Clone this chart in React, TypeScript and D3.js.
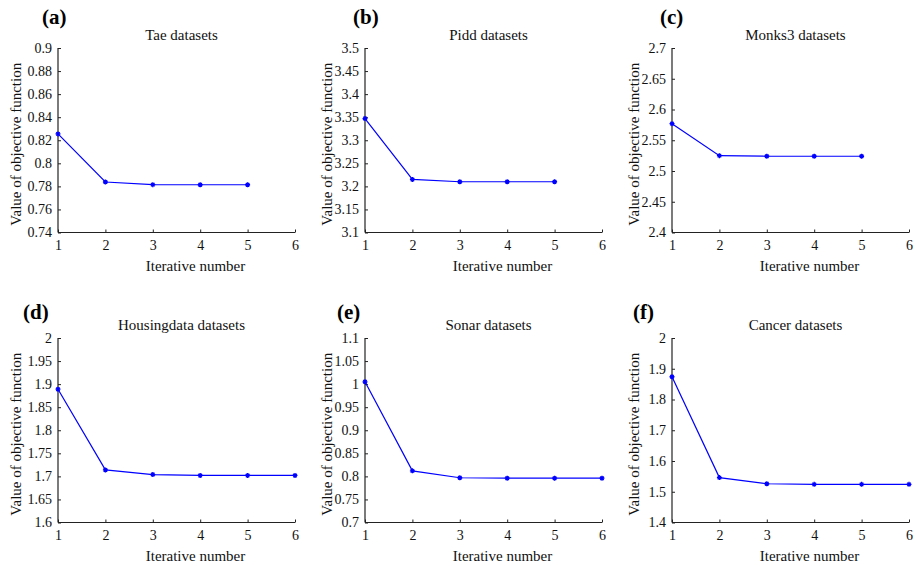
import React, { useEffect, useRef } from "react";
import * as d3 from "d3";

// iteration index on the x axis
const iterations = [1, 2, 3, 4, 5, 6];

const panelLabels = ["(a)", "(b)", "(c)", "(d)", "(e)", "(f)"];
const titles = [
  "Tae datasets",
  "Pidd datasets",
  "Monks3 datasets",
  "Housingdata datasets",
  "Sonar datasets",
  "Cancer datasets",
];

// objective function values per dataset
const taeValues = [0.8255, 0.7838, 0.7815, 0.7814, 0.7814];
const piddValues = [3.347, 3.215, 3.21, 3.21, 3.21];
const monks3Values = [2.577, 2.525, 2.524, 2.524, 2.524];
const housingValues = [1.889, 1.714, 1.704, 1.702, 1.702, 1.702];
const sonarValues = [1.005, 0.812, 0.797, 0.796, 0.796, 0.796];
const cancerValues = [1.874, 1.546, 1.526, 1.524, 1.524, 1.524];

// y tick labels per panel
const taeTicks = [0.74, 0.76, 0.78, 0.8, 0.82, 0.84, 0.86, 0.88, 0.9];
const piddTicks = [3.1, 3.15, 3.2, 3.25, 3.3, 3.35, 3.4, 3.45, 3.5];
const monks3Ticks = [2.4, 2.45, 2.5, 2.55, 2.6, 2.65, 2.7];
const housingTicks = [1.6, 1.65, 1.7, 1.75, 1.8, 1.85, 1.9, 1.95, 2];
const sonarTicks = [0.7, 0.75, 0.8, 0.85, 0.9, 0.95, 1, 1.05, 1.1];
const cancerTicks = [1.4, 1.5, 1.6, 1.7, 1.8, 1.9, 2];

const seriesList = [taeValues, piddValues, monks3Values, housingValues, sonarValues, cancerValues];
const tickList = [taeTicks, piddTicks, monks3Ticks, housingTicks, sonarTicks, cancerTicks];

const W = 915;
const H = 566;
const FONT = "'Liberation Serif', 'Times New Roman', serif";

export default function App() {
  const ref = useRef<SVGSVGElement>(null);

  useEffect(() => {
    const svg = d3.select(ref.current);
    svg.selectAll("*").remove();

    const colLeft = [58, 365, 672];
    const rowTop = [48, 338];
    const pw = 237;
    const ph = 184.5;
    const labelX = [42, 353, 660, 23, 337, 633];
    const ylabOff = [37, 33, 33];

    seriesList.forEach((vals, i) => {
      const col = i % 3;
      const row = Math.floor(i / 3);
      const left = colLeft[col];
      const top = rowTop[row];
      const ticks = tickList[i];

      const x = d3.scaleLinear().domain([1, 6]).range([left, left + pw]);
      const y = d3
        .scaleLinear()
        .domain([ticks[0], ticks[ticks.length - 1]])
        .range([top + ph, top]);

      const g = svg.append("g");

      // y axis
      const yAxis = d3
        .axisLeft(y)
        .tickValues(ticks)
        .tickSize(-3)
        .tickPadding(6)
        .tickFormat((d) => String(+(+d).toFixed(2)));
      const ya = g.append("g").attr("transform", `translate(${left},0)`).call(yAxis);

      const xAxis = d3
        .axisBottom(x)
        .tickValues(iterations)
        .tickSize(-3)
        .tickPadding(8)
        .tickFormat((d) => String(d));
      const xa = g.append("g").attr("transform", `translate(0,${top + ph})`).call(xAxis);

      [ya, xa].forEach((a) => {
        a.select(".domain").attr("stroke", "#222").attr("stroke-width", 1.2);
        a.selectAll(".tick line").attr("stroke", "#222");
        a.selectAll(".tick text")
          .attr("fill", "#111")
          .style("font-family", FONT)
          .style("font-size", "14px");
      });
      // remove outer tick stubs (matlab style has none)
      ya.select(".domain").attr("d", `M0,${top}V${top + ph}`);
      xa.select(".domain").attr("d", `M${left},0H${left + pw}`);

      // series
      const pts = vals.map((v, k) => [iterations[k], v] as [number, number]);
      const line = d3
        .line<[number, number]>()
        .x((d) => x(d[0]))
        .y((d) => y(d[1]));
      g.append("path")
        .attr("d", line(pts))
        .attr("fill", "none")
        .attr("stroke", "#0000ff")
        .attr("stroke-width", 1.2);

      const s = 2.5;
      pts.forEach((p) => {
        const cx = x(p[0]);
        const cy = y(p[1]);
        g.append("path")
          .attr(
            "d",
            `M${cx - s},${cy}H${cx + s}M${cx},${cy - s}V${cy + s}M${cx - s * 0.7},${cy - s * 0.7}L${cx + s * 0.7},${cy + s * 0.7}M${cx - s * 0.7},${cy + s * 0.7}L${cx + s * 0.7},${cy - s * 0.7}`
          )
          .attr("stroke", "#0000ff")
          .attr("stroke-width", 1.3);
      });

      // title
      g.append("text")
        .attr("x", left + pw / 2 + 5)
        .attr("y", top - 8)
        .attr("text-anchor", "middle")
        .style("font-family", FONT)
        .style("font-size", "15px")
        .attr("fill", "#111")
        .text(titles[i]);

      // x label
      g.append("text")
        .attr("x", left + pw / 2 + 19)
        .attr("y", top + ph + 38)
        .attr("text-anchor", "middle")
        .style("font-family", FONT)
        .style("font-size", "15px")
        .attr("fill", "#111")
        .text("Iterative number");

      // y label
      g.append("text")
        .attr("transform", `translate(${left - ylabOff[col]},${top + ph / 2 + 4}) rotate(-90)`)
        .attr("text-anchor", "middle")
        .style("font-family", FONT)
        .style("font-size", "15px")
        .attr("fill", "#111")
        .text("Value of objective function");

      // panel label
      g.append("text")
        .attr("x", labelX[i])
        .attr("y", row === 0 ? 24 : 319)
        .style("font-family", FONT)
        .style("font-size", "21px")
        .style("font-weight", "bold")
        .attr("fill", "#000")
        .text(panelLabels[i]);
    });
  }, []);

  return (
    <svg
      ref={ref}
      width={W}
      height={H}
      style={{ position: "absolute", left: 0, top: 0, background: "#fff" }}
    />
  );
}
